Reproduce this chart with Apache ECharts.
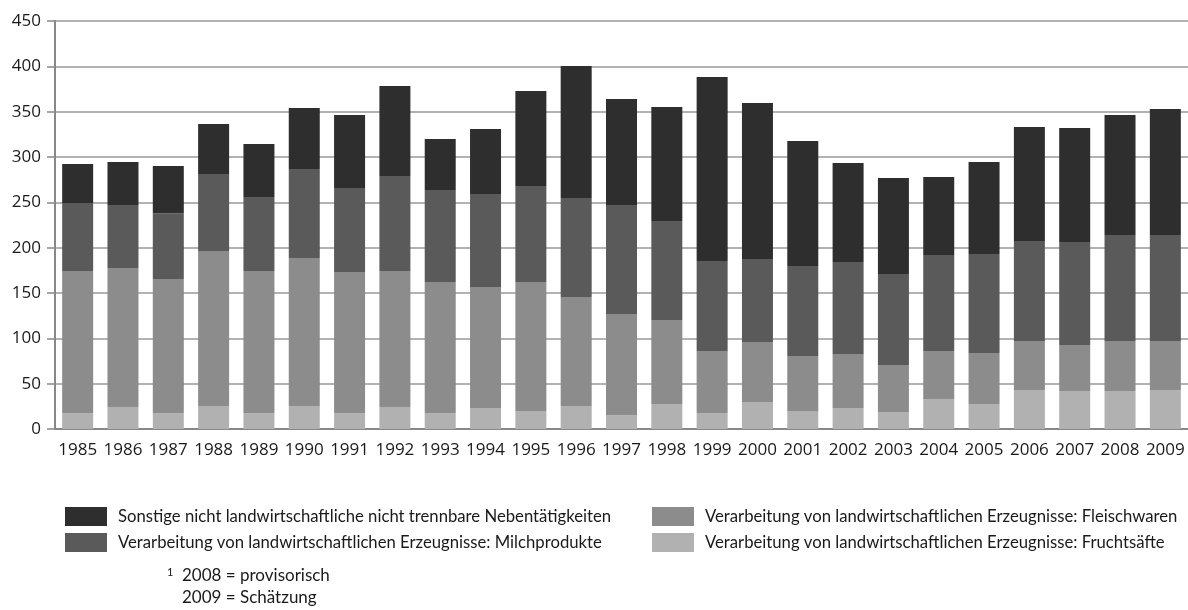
<!DOCTYPE html>
<html>
<head>
<meta charset="utf-8">
<script src="https://cdn.jsdelivr.net/npm/echarts@6/dist/echarts.min.js"></script>
<style>
  html, body { margin: 0; padding: 0; background: #fff; }
  #chart { width: 1188px; height: 610px; }
</style>
</head>
<body>
<div id="chart"></div>
<script>
const years = ['1985', '1986', '1987', '1988', '1989', '1990', '1991', '1992', '1993', '1994', '1995', '1996', '1997',
  '1998', '1999', '2000', '2001', '2002', '2003', '2004', '2005', '2006', '2007', '2008', '2009']

// von unten nach oben gestapelt
const fruchtsaefte = [17.6, 24.3, 17.6, 25.4, 17.6, 25.4, 17.6, 24.3, 17.6, 23.2, 19.9, 25.4, 15.4,
  27.6, 17.6, 29.8, 19.9, 23.2, 18.8, 33.1, 27.6, 43.0, 41.9, 41.9, 43.0]
const fleischwaren = [156.7, 153.3, 147.8, 170.9, 156.7, 163.2, 155.6, 150.0, 144.5, 133.4, 142.2, 120.2, 111.4,
  92.6, 68.4, 66.2, 60.6, 59.5, 51.8, 52.9, 56.2, 54.1, 50.7, 55.2, 54.1]
const milchprodukte = [75.0, 69.4, 72.6, 85.0, 81.6, 98.2, 92.6, 104.7, 101.5, 102.6, 105.9, 109.2, 120.2,
  109.2, 99.3, 91.5, 99.3, 101.5, 100.4, 105.9, 109.2, 110.3, 113.6, 116.9, 116.9]
const sonstige = [43.0, 47.5, 52.0, 55.1, 58.4, 67.2, 80.5, 99.3, 56.3, 71.7, 104.8, 145.6, 117.0,
  125.7, 202.9, 172.1, 137.8, 109.2, 105.8, 86.1, 101.5, 125.7, 125.8, 132.3, 138.9]

const yTicks = { min: 0, max: 450, interval: 50 }

const nameSonstige = 'Sonstige nicht landwirtschaftliche nicht trennbare Nebentätigkeiten'
const nameMilch = 'Verarbeitung von landwirtschaftlichen Erzeugnisse: Milchprodukte'
const nameFleisch = 'Verarbeitung von landwirtschaftlichen Erzeugnisse: Fleischwaren'
const nameFrucht = 'Verarbeitung von landwirtschaftlichen Erzeugnisse: Fruchtsäfte'

const axisFont = { fontFamily: 'Open Sans', fontSize: 17, color: '#1a1a1a' }
const legendText = { fontFamily: 'Lato', fontSize: 16.7, color: '#1a1a1a', padding: [0, 0, 0, 6] }

const myChart = echarts.init(document.getElementById('chart'))

function bar (name, data, color) {
  return {
    name: name,
    type: 'bar',
    stack: 'total',
    barWidth: 31,
    data: data,
    itemStyle: { color: color },
    emphasis: { disabled: true }
  }
}

const options = {
  animation: false,
  grid: { left: 55, top: 21, width: 1137, height: 408 },
  xAxis: {
    type: 'category',
    data: years,
    axisLine: { lineStyle: { color: '#888', width: 2 } },
    axisTick: { show: false },
    axisLabel: Object.assign({ margin: 13, interval: 0 }, axisFont)
  },
  yAxis: {
    type: 'value',
    min: yTicks.min,
    max: yTicks.max,
    interval: yTicks.interval,
    axisLine: { show: true, lineStyle: { color: '#888', width: 2 } },
    axisTick: { show: true, length: 8, lineStyle: { color: '#888', width: 1.5 } },
    splitLine: { lineStyle: { color: '#999', width: 1.5 } },
    axisLabel: Object.assign({ margin: 14 }, axisFont)
  },
  legend: [{
    orient: 'vertical',
    left: 60,
    top: 502,
    itemWidth: 42,
    itemHeight: 19,
    itemGap: 7,
    icon: 'rect',
    selectedMode: false,
    textStyle: legendText,
    data: [nameSonstige, nameMilch]
  }, {
    orient: 'vertical',
    left: 647,
    top: 502,
    itemWidth: 42,
    itemHeight: 19,
    itemGap: 7,
    icon: 'rect',
    selectedMode: false,
    textStyle: legendText,
    data: [nameFleisch, nameFrucht]
  }],
  graphic: [{
    type: 'text',
    left: 167,
    top: 567,
    style: { text: '1', fontFamily: 'Lato', fontSize: 11, fill: '#1a1a1a' }
  }, {
    type: 'text',
    left: 182,
    top: 567,
    style: { text: '2008 = provisorisch', fontFamily: 'Lato', fontSize: 17, fill: '#1a1a1a' }
  }, {
    type: 'text',
    left: 182,
    top: 589,
    style: { text: '2009 = Schätzung', fontFamily: 'Lato', fontSize: 17, fill: '#1a1a1a' }
  }],
  series: [
    bar(nameFrucht, fruchtsaefte, '#b1b1b1'),
    bar(nameFleisch, fleischwaren, '#8c8c8c'),
    bar(nameMilch, milchprodukte, '#5a5a5a'),
    bar(nameSonstige, sonstige, '#2e2e2e')
  ]
}
myChart.setOption(options)
</script>
</body>
</html>
